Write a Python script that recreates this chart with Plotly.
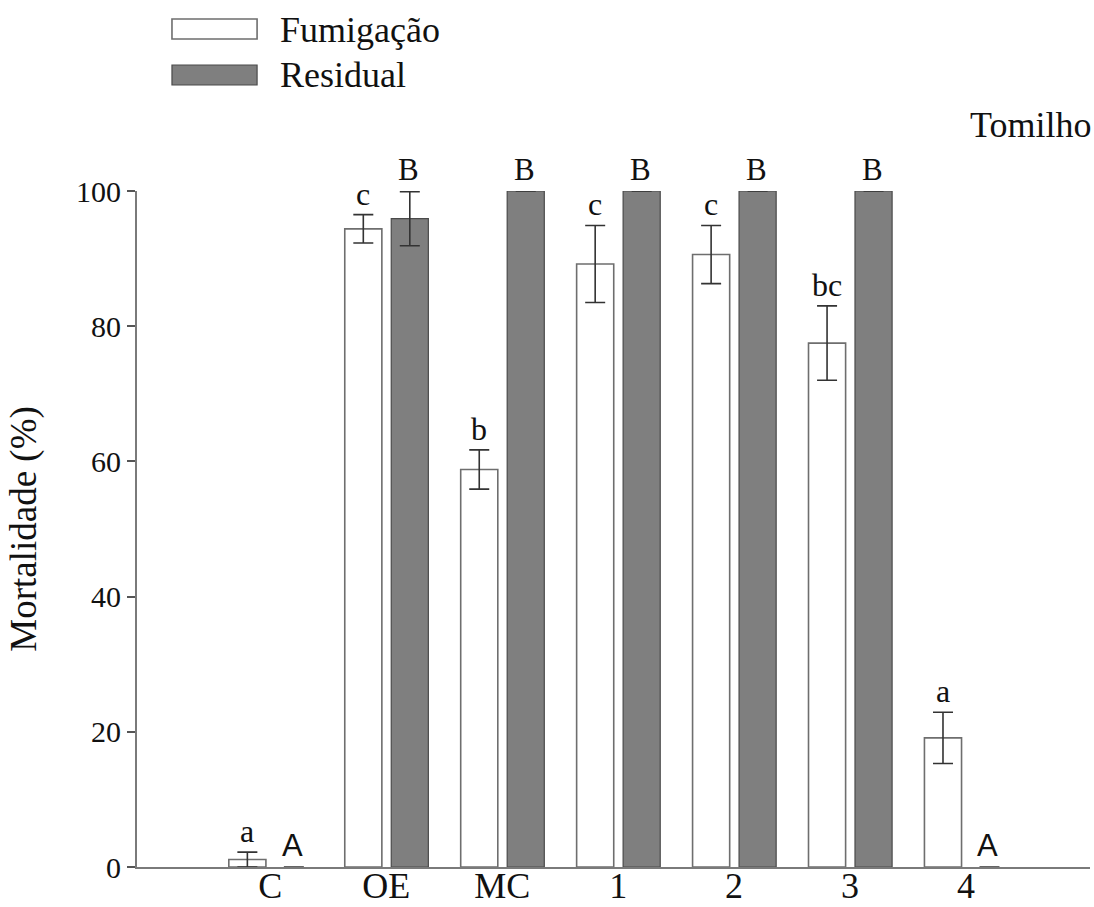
import plotly.graph_objects as go

categories = ["C", "OE", "MC", "1", "2", "3", "4"]
fumigacao = [1.1, 94.4, 58.8, 89.2, 90.6, 77.5, 19.1]
fumigacao_err = [1.1, 2.1, 2.9, 5.7, 4.3, 5.5, 3.8]
residual = [0, 95.9, 100, 100, 100, 100, 0]
residual_err = [None, 4.0, None, None, None, None, None]
fum_letters = ["a", "c", "b", "c", "c", "bc", "a"]
res_letters = ["A", "B", "B", "B", "B", "B", "A"]
y_ticks = [0, 20, 40, 60, 80, 100]

SERIF = "Liberation Serif, Times New Roman, serif"
SANS = "Liberation Sans, Arial, sans-serif"

BAR_W = 0.32
FUM_OFF = -0.358
RES_OFF = 0.043

fig = go.Figure()
fig.add_trace(go.Bar(
    x=categories, y=fumigacao, name="Fumigação",
    width=BAR_W, offset=FUM_OFF,
    marker=dict(color="white", line=dict(color="#6e6e6e", width=1.6)),
    error_y=dict(type="data", array=fumigacao_err, visible=True,
                 color="#333333", thickness=1.6, width=10),
    showlegend=False,
))
fig.add_trace(go.Bar(
    x=categories, y=residual, name="Residual",
    width=BAR_W, offset=RES_OFF,
    marker=dict(color="#7f7f7f",
                line=dict(color="#4a4a4a",
                          width=[1.2 if v else 0 for v in residual])),
    error_y=dict(type="data", array=residual_err, visible=True,
                 color="#333333", thickness=1.6, width=10),
    showlegend=False,
))

annotations = []
for i, (v, e, t) in enumerate(zip(fumigacao, fumigacao_err, fum_letters)):
    annotations.append(dict(x=i, y=v + (e or 0), text=t, showarrow=False,
                            xref="x", yref="y", xshift=-23, yshift=21,
                            yanchor="middle",
                            font=dict(family=SERIF, size=32, color="#111")))
for i, (v, e, t) in enumerate(zip(residual, residual_err, res_letters)):
    fam = SANS if t == "A" else SERIF
    annotations.append(dict(x=i, y=v + (e or 0), text=t, showarrow=False,
                            xref="x", yref="y", xshift=22, yshift=22,
                            yanchor="middle",
                            font=dict(family=fam, size=31, color="#111")))

# legend (custom, wide swatches)
shapes = [
    dict(type="rect", xref="paper", yref="paper", x0=0.0367, x1=0.126,
         y0=1.2249, y1=1.2544, fillcolor="white",
         line=dict(color="#6e6e6e", width=1.6)),
    dict(type="rect", xref="paper", yref="paper", x0=0.0367, x1=0.126,
         y0=1.1568, y1=1.1864, fillcolor="#7f7f7f",
         line=dict(color="#4a4a4a", width=1.2)),
]
annotations += [
    dict(x=0.148, y=1.238, xref="paper", yref="paper", text="Fumigação",
         showarrow=False, xanchor="left", yanchor="middle",
         font=dict(family=SERIF, size=36, color="#111")),
    dict(x=0.148, y=1.1716, xref="paper", yref="paper", text="Residual",
         showarrow=False, xanchor="left", yanchor="middle",
         font=dict(family=SERIF, size=36, color="#111")),
    dict(x=1.003, y=1.0976, xref="paper", yref="paper", text="Tomilho",
         showarrow=False, xanchor="right", yanchor="middle",
         font=dict(family=SERIF, size=36, color="#111")),
]

fig.update_layout(
    width=1094, height=907,
    margin=dict(l=137, r=4, t=191, b=40),
    paper_bgcolor="white", plot_bgcolor="white",
    barmode="overlay",
    shapes=shapes, annotations=annotations,
    xaxis=dict(
        categoryorder="array", categoryarray=categories,
        range=[-1.15, 7.07], automargin=False,
        showline=True, linecolor="#7a7a7a", linewidth=2,
        ticks="", showgrid=False, zeroline=False,
        tickfont=dict(family=SERIF, size=36, color="#111"),
        ticklabelstandoff=-14,
    ),
    yaxis=dict(
        range=[0, 100], tickvals=y_ticks, automargin=False,
        showline=True, linecolor="#7a7a7a", linewidth=2,
        ticks="outside", ticklen=8, tickwidth=1.5, tickcolor="#555",
        showgrid=False, zeroline=False,
        tickfont=dict(family=SERIF, size=30, color="#111"),
        title=dict(text="Mortalidade (%)", standoff=28,
                   font=dict(family=SERIF, size=37, color="#111")),
    ),
)

fig.write_html(
    "out.html",
    config={"displayModeBar": False},
    post_script="document.body.style.margin='0';document.body.style.overflow='hidden';",
)
